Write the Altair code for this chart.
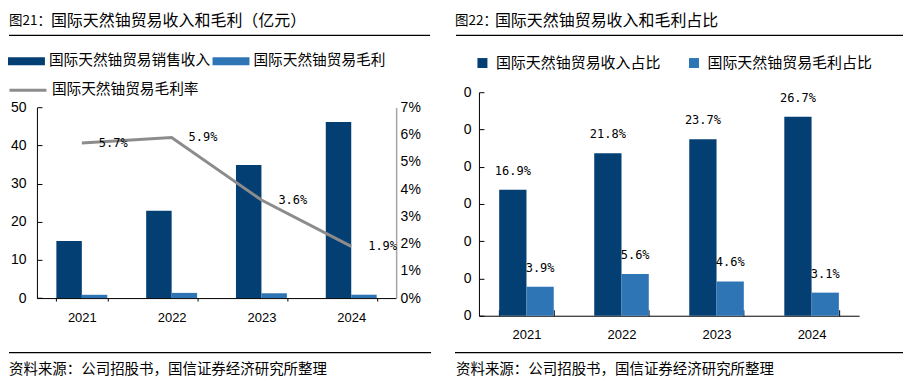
import altair as alt
import pandas as pd

# ---------------- data ----------------
years = ["2021", "2022", "2023", "2024"]
revenue = [15.0, 22.9, 34.9, 46.2]          # 国际天然铀贸易销售收入 (亿元)
gross_profit = [0.86, 1.36, 1.26, 0.88]     # 国际天然铀贸易毛利 (亿元)
margin = [5.7, 5.9, 3.6, 1.9]               # 毛利率 (%)
rev_share = [16.9, 21.8, 23.7, 26.7]        # 收入占比 (%)
profit_share = [3.9, 5.6, 4.6, 3.1]         # 毛利占比 (%)

left_series = ["国际天然铀贸易销售收入", "国际天然铀贸易毛利"]
rate_series = ["国际天然铀贸易毛利率"]
right_series = ["国际天然铀贸易收入占比", "国际天然铀贸易毛利占比"]

left_ticks = [0, 10, 20, 30, 40, 50]
rate_ticks = [0, 1, 2, 3, 4, 5, 6, 7]
share_ticks = [0, 5, 10, 15, 20, 25, 30]

title_left_prefix = "图21："
title_left_main = "国际天然铀贸易收入和毛利（亿元）"
title_right_prefix = "图22："
title_right_main = "国际天然铀贸易收入和毛利占比"
source_text = "资料来源：公司招股书，国信证券经济研究所整理"

# ---------------- style ----------------
NAVY = "#033f73"
BLUE = "#2e75b6"
GRAY = "#8c8c8c"
CJK = "Noto Sans CJK SC"
LAT = "Liberation Sans"
MONO = "DejaVu Sans Mono"

H = 224
WL = 360
WR = 381
Y0L = 206.3
Y1L = 15.3

left_df = pd.DataFrame({
    "year": years * 2,
    "series": [left_series[0]] * 4 + [left_series[1]] * 4,
    "value": revenue + gross_profit,
})
rate_df = pd.DataFrame({
    "year": years,
    "rate": margin,
    "series": rate_series * 4,
    "label": [f"{v}%" for v in margin],
})
right_df = pd.DataFrame({
    "year": years * 2,
    "series": [right_series[0]] * 4 + [right_series[1]] * 4,
    "value": rev_share + profit_share,
})
right_df["label"] = [f"{v}%" for v in right_df["value"]]
one = pd.DataFrame({"k": [0]})


def text_mark(txt, x, y, size, font=CJK):
    return alt.Chart(one).mark_text(
        text=txt, align="left", baseline="middle", font=font,
        fontSize=size, color="black"
    ).encode(x=alt.value(x), y=alt.value(y))


def rule_mark(x1, x2, y, w=1.2):
    return alt.Chart(one).mark_rule(color="black", strokeWidth=w).encode(
        x=alt.value(x1), x2=alt.value(x2), y=alt.value(y)
    )


# ---------------- left chart ----------------
X_LEFT = alt.X(
    "year:N", sort=years, title=None,
    scale=alt.Scale(domain=years, paddingInner=0.433, paddingOuter=0.2165),
    axis=alt.Axis(orient="bottom", offset=-17.7, labelAngle=0,
                  tickBand="extent", tickSize=3, labelPadding=10.5,
                  labelFont=LAT, labelFontSize=13, labelColor="black",
                  domainColor="black", domainWidth=1, tickColor="black",
                  tickWidth=1, grid=False),
)
Y_RATE = alt.Y(
    "rate:Q", title=None,
    scale=alt.Scale(domain=[0, 7], range=[Y0L, Y1L], nice=False),
    axis=alt.Axis(orient="right", values=rate_ticks, labelExpr="datum.value + '%'",
                  ticks=False, tickSize=0, labelPadding=4, grid=False,
                  labelFont=LAT, labelFontSize=14, labelColor="black",
                  domainColor="#a6a6a6", domainWidth=1.5),
)

bars_left = alt.Chart(left_df).mark_bar().encode(
    x=X_LEFT,
    xOffset=alt.XOffset("series:N", sort=left_series,
                        scale=alt.Scale(domain=left_series, paddingInner=0, paddingOuter=0)),
    y=alt.Y("value:Q", title=None,
            scale=alt.Scale(domain=[0, 50], range=[Y0L, Y1L], nice=False),
            axis=alt.Axis(orient="right", offset=-WL, values=left_ticks, tickSize=5,
                          labelAlign="right", labelPadding=-16, grid=False,
                          labelFont=LAT, labelFontSize=14, labelColor="black",
                          domainColor="black", domainWidth=1, tickColor="black",
                          tickWidth=1)),
    color=alt.Color("series:N", sort=left_series,
                    scale=alt.Scale(domain=left_series, range=[NAVY, BLUE]),
                    legend=alt.Legend(orient="none", legendX=-29, legendY=-50,
                                      direction="horizontal", title=None,
                                      symbolType="M-1,-0.22H1V0.22H-1Z", symbolSize=1369,
                                      symbolStrokeWidth=0, symbolOpacity=1,
                                      labelFont=CJK, labelFontSize=14.7, labelColor="black",
                                      labelOffset=4, labelLimit=400, columnPadding=2,
                                      padding=0)),
)

line_left = alt.Chart(rate_df).mark_line(strokeWidth=3).encode(
    x=X_LEFT,
    y=Y_RATE,
    stroke=alt.Stroke("series:N",
                      scale=alt.Scale(domain=rate_series, range=[GRAY]),
                      legend=alt.Legend(orient="none", legendX=-29, legendY=-22,
                                        title=None, symbolType="stroke", symbolSize=1369,
                                        symbolStrokeWidth=3,
                                        labelFont=CJK, labelFontSize=14.7, labelColor="black",
                                        labelOffset=4, labelLimit=400, padding=0)),
)

rate_text = alt.Chart(rate_df).mark_text(
    align="left", baseline="middle", dx=17, font=MONO, fontSize=12, color="black"
).encode(
    x=X_LEFT,
    y=Y_RATE,
    text="label:N",
)

left = alt.layer(
    bars_left, alt.layer(line_left, rate_text),
    text_mark(title_left_prefix, -28, -71.5, 13.5),
    text_mark(title_left_main, 14, -71.5, 16),
    rule_mark(-28, 394, -57),
    rule_mark(-28, 395, 261),
    text_mark(source_text, -28, 278, 14.5),
).resolve_scale(y="independent").properties(width=WL, height=H)

# ---------------- right chart ----------------
X_RIGHT = alt.X(
    "year:N", sort=years, title=None,
    scale=alt.Scale(domain=years, paddingInner=0.426, paddingOuter=0.213),
    axis=alt.Axis(orient="top", offset=-H, labelAngle=0, tickBand="extent",
                  tickSize=6, labelBaseline="top", labelPadding=-18.4,
                  labelFont=LAT, labelFontSize=13, labelColor="black",
                  domainColor="black", domainWidth=1, tickColor="black",
                  tickWidth=1, grid=False),
)
XOFF_RIGHT = alt.XOffset("series:N", sort=right_series,
                         scale=alt.Scale(domain=right_series, paddingInner=0, paddingOuter=0))
Y_RIGHT = alt.Y(
    "value:Q", title=None,
    scale=alt.Scale(domain=[0, 30], nice=False),
    axis=alt.Axis(orient="right", offset=-WR, values=share_ticks, tickSize=5,
                  labelExpr="'0'", labelAlign="right", labelPadding=-13,
                  grid=False, labelFont=LAT, labelFontSize=14, labelColor="black",
                  domainColor="black", domainWidth=1, tickColor="black", tickWidth=1),
)

bars_right = alt.Chart(right_df).mark_bar().encode(
    x=X_RIGHT,
    xOffset=XOFF_RIGHT,
    y=Y_RIGHT,
    color=alt.Color("series:N", sort=right_series,
                    scale=alt.Scale(domain=right_series, range=[NAVY, BLUE]),
                    legend=alt.Legend(orient="none", legendX=-4, legendY=-37,
                                      direction="horizontal", title=None,
                                      symbolType="square", symbolSize=100,
                                      symbolStrokeWidth=0, symbolOpacity=1,
                                      labelFont=CJK, labelFontSize=15, labelColor="black",
                                      labelOffset=6, labelLimit=400, columnPadding=25,
                                      padding=0)),
)

share_text = alt.Chart(right_df).mark_text(
    align="center", baseline="middle", dy=-19, font=MONO, fontSize=12, color="black"
).encode(
    x=X_RIGHT,
    xOffset=XOFF_RIGHT,
    y=Y_RIGHT,
    text="label:N",
)

right = alt.layer(
    bars_right, share_text,
    text_mark(title_right_prefix, -24, -71.5, 13.5),
    text_mark(title_right_main, 16, -71.5, 16),
    rule_mark(-23, 425, -57),
    rule_mark(-24, 425, 261),
    text_mark(source_text, -23, 278, 14.5),
).properties(width=WR, height=H)

chart = alt.hconcat(left, right, spacing=83, bounds="flush").resolve_scale(
    color="independent", xOffset="independent", x="independent", y="independent"
).properties(
    padding={"left": 0, "top": 4, "right": 0, "bottom": 0}
).configure_view(strokeWidth=0)

chart.save("out.html", embed_options={"renderer": "svg", "actions": False})
